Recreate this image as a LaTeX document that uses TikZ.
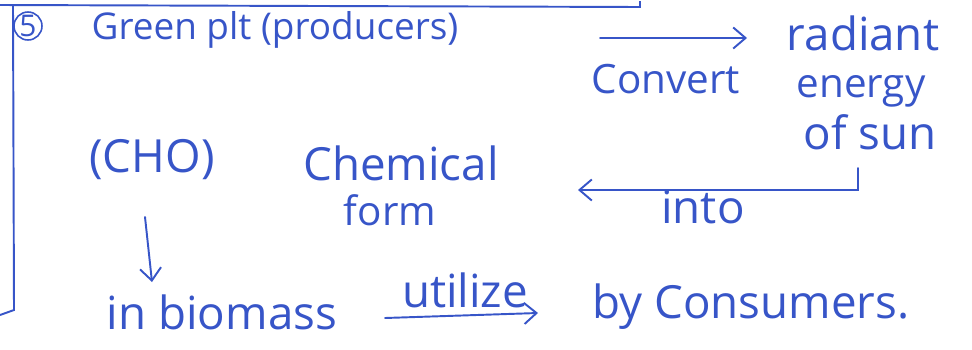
\documentclass[tikz,border=0pt]{standalone}
\usepackage{fontspec}
\setmainfont{Open Sans}
\usetikzlibrary{positioning,arrows.meta,calc}
\definecolor{ink}{RGB}{55,85,200}

\begin{document}
\begin{tikzpicture}[
  x=0.02cm, y=-0.02cm,
  >={Straight Barb[length=7pt,width=12pt]},
  note/.style={text=ink, font=\fontsize{26}{30}\selectfont, inner sep=0pt},
  small/.style={font=\fontsize{23}{27}\selectfont},
  flow/.style={->, draw=ink, line width=1.1pt, line cap=round},
  frame/.style={draw=ink, line width=1.1pt},
]
  \useasboundingbox (0,0) rectangle (972,349);

  % margin of the note
  \coordinate (ftl) at (0,5);
  \coordinate (ftr) at (640,7);
  \coordinate (fbl) at (14,310);
  \draw[frame] (ftl) -- (ftr) -- ++(0,-6);
  \draw[frame] (13,5) -- (fbl) -- ++(-14,5);

  \node[draw=ink, circle, line width=0.9pt, minimum size=0.56cm, inner sep=0pt,
        text=ink, font=\fontsize{17}{19}\selectfont] (five) at (28,26) {5};

  % text of the note
  \node[note, font=\fontsize{21}{25}\selectfont] (green) at (275,30) {Green plt (producers)};
  \node[note] (radiant)  at (863,33)  {radiant};
  \node[note, small] (convert) at (666,79) {Convert};
  \node[note, small] (energy) at (861,91) {energy};
  \node[note] (sun)      at (870,132) {of sun};
  \node[note] (cho)      at (152,160) {(CHO)};
  \node[note] (chem)     at (401,163) {Chemical};
  \node[note, small] (form) at (390,210) {form};
  \node[note] (into)     at (703,207) {into};
  \node[note] (biomass)  at (222,312) {in biomass};
  \node[note] (util)     at (465,290) {utilize};
  \node[note] (cons)     at (751,307) {by Consumers.};

  % arrows
  \draw[flow] ($(convert)+(-66,-41)$) -- ($(radiant)+(-116,5)$);
  \draw[flow] ($(sun)+(-12,36)$) |- ($(into)+(-125,-17)$);
  \draw[flow] ($(cho)+(-7,57)$) -- ($(cho)+(0,122)$);
  \draw[flow] ($(biomass)+(163,6)$) -- ($(util)+(73,23)$);
\end{tikzpicture}
\end{document}
